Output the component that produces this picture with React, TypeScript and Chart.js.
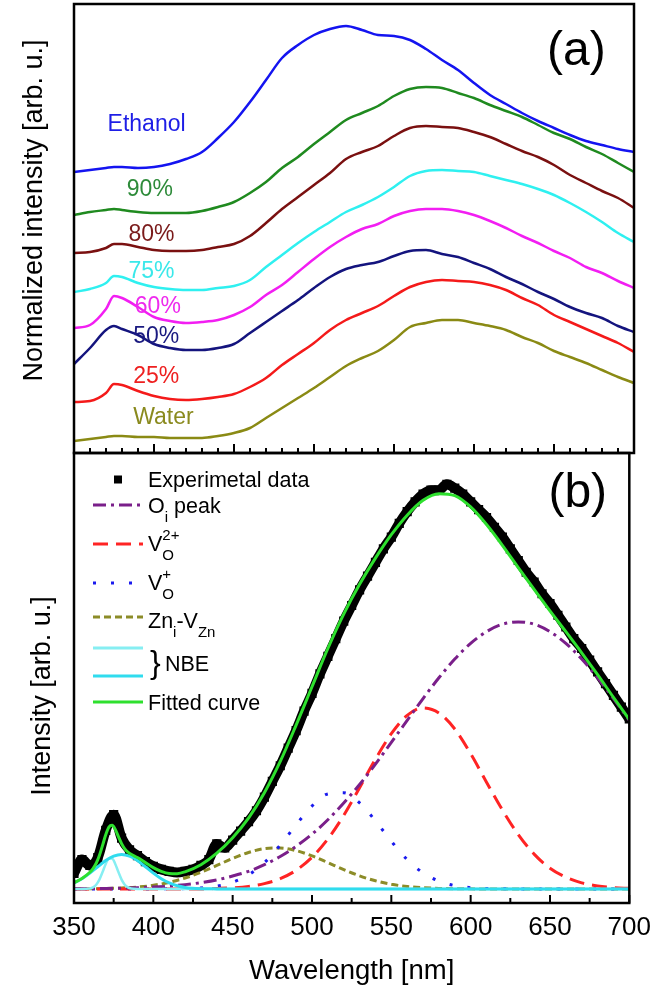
import React, { useEffect, useRef } from 'react';
import { Chart, registerables } from 'chart.js';

Chart.register(...registerables);

const FONT = '"Liberation Sans", Arial, Helvetica, sans-serif';

// ---------------- Panel (a): normalized PL spectra (offset) ----------------
const WL_A = [350, 360, 370, 375, 380, 390, 400, 410, 420, 430, 440, 450, 460, 470, 480, 490, 500, 510, 520, 530, 540, 550, 560, 570, 580, 590, 600, 610, 620, 630, 640, 650, 660, 670, 680, 690, 700];

const ETHANOL = [28.1, 28.3, 28.5, 28.6, 28.6, 28.5, 28.6, 28.9, 29.4, 30.1, 31.5, 33.1, 35.1, 37.3, 39.5, 40.8, 41.8, 42.4, 42.7, 42.3, 41.8, 41.7, 41.3, 40.4, 39.3, 38.3, 37.0, 35.8, 34.9, 34.0, 33.2, 32.5, 31.8, 31.2, 30.8, 30.4, 30.1];
const P90 = [23.8, 24.1, 24.3, 24.4, 24.3, 24.1, 24.0, 24.0, 24.0, 24.2, 24.6, 25.1, 26.0, 27.1, 28.5, 29.6, 30.9, 32.1, 33.3, 34.0, 34.7, 35.7, 36.4, 36.6, 36.5, 36.0, 35.5, 34.8, 34.2, 33.6, 32.8, 32.0, 31.4, 30.6, 29.9, 29.0, 28.1];
const P80 = [20.0, 20.1, 20.5, 20.9, 20.9, 20.6, 20.3, 20.2, 20.2, 20.3, 20.6, 20.9, 21.7, 23.0, 24.4, 25.6, 26.8, 28.0, 29.4, 30.1, 30.7, 31.7, 32.5, 32.7, 32.6, 32.5, 32.1, 31.6, 30.9, 30.2, 29.6, 28.8, 27.8, 27.0, 26.2, 25.5, 24.5];
const P75 = [16.1, 16.4, 17.0, 17.7, 17.6, 17.0, 16.6, 16.4, 16.3, 16.3, 16.5, 16.7, 17.3, 18.6, 19.8, 21.0, 22.1, 23.1, 24.1, 24.8, 25.6, 26.6, 27.7, 28.2, 28.3, 28.2, 28.1, 27.7, 27.3, 26.9, 26.4, 25.8, 25.0, 24.1, 23.1, 22.0, 21.1];
const P60 = [12.5, 12.8, 14.4, 15.7, 15.5, 14.6, 13.6, 13.2, 13.0, 13.1, 13.3, 13.8, 14.6, 15.8, 16.8, 18.1, 19.4, 20.6, 21.6, 22.4, 22.9, 23.7, 24.2, 24.4, 24.4, 24.2, 23.8, 23.2, 22.5, 21.7, 21.0, 20.2, 19.5, 18.6, 18.0, 17.2, 16.5];
const P50 = [8.9, 10.5, 12.3, 12.7, 12.4, 11.8, 10.9, 10.5, 10.3, 10.3, 10.5, 10.9, 12.0, 13.1, 14.2, 15.3, 16.5, 17.6, 18.4, 18.8, 19.1, 19.7, 20.2, 20.3, 19.9, 19.6, 19.0, 18.4, 17.6, 16.9, 16.1, 15.4, 14.6, 14.0, 13.5, 12.7, 12.1];
const P25 = [5.1, 5.2, 6.0, 6.9, 6.8, 6.2, 5.7, 5.4, 5.3, 5.4, 5.6, 5.9, 6.6, 7.5, 8.8, 9.9, 11.0, 12.3, 13.3, 14.0, 14.7, 15.7, 16.6, 17.1, 17.3, 17.2, 17.1, 16.8, 16.3, 15.5, 14.8, 13.8, 13.1, 12.4, 11.7, 11.0, 10.1];
const WATER = [1.2, 1.4, 1.6, 1.7, 1.7, 1.6, 1.6, 1.5, 1.5, 1.5, 1.7, 2.0, 2.5, 3.5, 4.5, 5.5, 6.5, 7.6, 8.7, 9.5, 10.2, 11.3, 12.6, 13.0, 13.3, 13.3, 13.0, 12.7, 12.3, 11.6, 11.0, 10.2, 9.6, 9.0, 8.3, 7.6, 7.0];

const NAMES_A = ['Ethanol', '90%', '80%', '75%', '60%', '50%', '25%', 'Water'];
const COLORS_A = ['#1414f0', '#1f8a1f', '#7a1010', '#2ff0f0', '#f21ef2', '#14147e', '#f41a1a', '#8a8a14'];
const LABEL_COLORS_A = ['#1e1ee6', '#2e8b3a', '#7a1a1a', '#3ae8ea', '#ee2aee', '#1a1a80', '#ee2020', '#8a8a1e'];
const LABEL_X_A = [371, 383, 384, 384, 388, 387, 387, 387];
const LABEL_Y_A = [32.8, 26.3, 21.8, 18.1, 14.6, 11.6, 7.6, 3.5];

// ---------------- Panel (b): deconvolution ----------------
const WL_B = [350, 360, 370, 380, 390, 400, 410, 420, 430, 440, 450, 460, 470, 480, 490, 500, 510, 520, 530, 540, 550, 560, 570, 580, 590, 600, 610, 620, 630, 640, 650, 660, 670, 680, 690, 700];
const OI_PEAK = [0.0004, 0.0007, 0.0012, 0.0019, 0.003, 0.0048, 0.0073, 0.011, 0.016, 0.023, 0.033, 0.045, 0.062, 0.083, 0.109, 0.140, 0.177, 0.220, 0.267, 0.319, 0.375, 0.431, 0.487, 0.540, 0.588, 0.628, 0.658, 0.677, 0.683, 0.677, 0.658, 0.628, 0.588, 0.540, 0.487, 0.431];
const VO2_PEAK = [0, 0, 0, 0, 0, 0, 0, 0, 0, 0.0012, 0.0029, 0.0065, 0.0136, 0.0263, 0.0477, 0.0808, 0.1277, 0.188, 0.259, 0.332, 0.397, 0.444, 0.463, 0.450, 0.409, 0.346, 0.273, 0.202, 0.139, 0.089, 0.053, 0.030, 0.0155, 0.0076, 0.0034, 0.0015];
const VO1_PEAK = [0, 0, 0, 0, 0, 0.0001, 0.0002, 0.0009, 0.0026, 0.0071, 0.017, 0.036, 0.067, 0.112, 0.164, 0.212, 0.243, 0.246, 0.220, 0.174, 0.122, 0.075, 0.041, 0.020, 0.0085, 0.0032, 0.0011, 0.0003, 0, 0, 0, 0, 0, 0, 0, 0];
const ZN_PEAK = [0.0001, 0.0004, 0.001, 0.0023, 0.0048, 0.0093, 0.0168, 0.0279, 0.0426, 0.060, 0.078, 0.0933, 0.103, 0.1046, 0.098, 0.0846, 0.0673, 0.0494, 0.0334, 0.0208, 0.0119, 0.0063, 0.0031, 0.0014, 0.0006, 0.0002, 0, 0, 0, 0, 0, 0, 0, 0, 0, 0];

const WL_NBE1 = [350, 355, 360, 362, 364, 366, 368, 370, 372, 374, 376, 378, 380, 382, 384, 386, 390, 400, 500, 600, 700];
const NBE1 = [0, 0, 0.0012, 0.004, 0.0108, 0.0238, 0.0431, 0.064, 0.078, 0.078, 0.064, 0.0431, 0.0238, 0.0108, 0.004, 0.0012, 0, 0, 0, 0, 0];
const WL_NBE2 = [350, 355, 360, 365, 370, 375, 380, 385, 390, 395, 400, 405, 410, 415, 420, 430, 440, 450, 500, 600, 700];
const NBE2 = [0.0152, 0.026, 0.0403, 0.0567, 0.0724, 0.0838, 0.088, 0.0838, 0.0724, 0.0567, 0.0403, 0.026, 0.0152, 0.008, 0.0039, 0.0007, 0.0001, 0, 0, 0, 0];

const WL_FIT = [350, 355, 360, 362, 364, 366, 368, 370, 372, 374, 376, 378, 380, 382, 384, 386, 390, 395, 400, 405, 410, 415, 420, 430, 440, 450, 460, 470, 480, 490, 500, 510, 520, 530, 540, 550, 560, 570, 580, 590, 600, 610, 620, 630, 640, 650, 660, 670, 680, 690, 700];
const FIT = [0.0157, 0.0267, 0.0426, 0.052, 0.0657, 0.0855, 0.1114, 0.1386, 0.1581, 0.1627, 0.1523, 0.1337, 0.116, 0.1026, 0.0942, 0.0886, 0.0802, 0.0673, 0.0545, 0.0448, 0.0395, 0.039, 0.0437, 0.0619, 0.0914, 0.131, 0.181, 0.246, 0.326, 0.419, 0.517, 0.615, 0.703, 0.779, 0.846, 0.906, 0.956, 0.994, 1.011, 1.006, 0.977, 0.932, 0.879, 0.822, 0.766, 0.711, 0.658, 0.604, 0.548, 0.490, 0.433];

const WL_EXP = [350, 355, 360, 365, 370, 375, 380, 385, 390, 395, 400, 405, 410, 415, 420, 425, 430, 435, 440, 445, 450, 455, 460, 465, 470, 475, 480, 485, 490, 495, 500, 505, 510, 515, 520, 525, 530, 535, 540, 545, 550, 555, 560, 565, 570, 575, 580, 585, 590, 595, 600, 605, 610, 615, 620, 625, 630, 635, 640, 645, 650, 655, 660, 665, 670, 675, 680, 685, 690, 695, 700];
const EXP = [0.04, 0.075, 0.06, 0.08, 0.15, 0.19, 0.13, 0.10, 0.085, 0.07, 0.058, 0.05, 0.045, 0.042, 0.045, 0.05, 0.06, 0.075, 0.115, 0.105, 0.125, 0.148, 0.172, 0.2, 0.235, 0.275, 0.315, 0.36, 0.405, 0.455, 0.50, 0.55, 0.595, 0.64, 0.685, 0.725, 0.765, 0.80, 0.835, 0.87, 0.90, 0.935, 0.965, 0.99, 1.01, 1.02, 1.02, 1.035, 1.025, 1.01, 0.99, 0.97, 0.95, 0.925, 0.90, 0.87, 0.84, 0.81, 0.785, 0.755, 0.73, 0.70, 0.67, 0.64, 0.615, 0.585, 0.555, 0.525, 0.495, 0.465, 0.435];

const X_TICKS = [350, 400, 450, 500, 550, 600, 650, 700];

const C_OI = '#7a1f8a';
const C_VO2 = '#ff2424';
const C_VO1 = '#1a1aee';
const C_ZN = '#8c8c28';
const C_NBE1 = '#86eef2';
const C_NBE2 = '#30dcee';
const C_FIT = '#2ee02e';

const pts = (xs: number[], ys: number[]) => xs.map((x, i) => ({ x, y: ys[i] }));

type Part = { t: string; sub?: string; sup?: string };

function drawRich(ctx: CanvasRenderingContext2D, parts: Part[], x: number, yBase: number) {
  for (const p of parts) {
    ctx.font = `21.5px ${FONT}`;
    if (p.t) {
      ctx.fillText(p.t, x, yBase);
      x += ctx.measureText(p.t).width;
    }
    ctx.font = `15px ${FONT}`;
    let w = 0;
    if (p.sub) {
      ctx.fillText(p.sub, x, yBase + 9);
      w = Math.max(w, ctx.measureText(p.sub).width);
    }
    if (p.sup) {
      ctx.fillText(p.sup, x, yBase - 11);
      w = Math.max(w, ctx.measureText(p.sup).width);
    }
    x += w;
  }
}

type Lbl = { text: string; x: number; y: number; color: string; size: number; align: CanvasTextAlign };

function makeDecor(cfg: {
  minorStep: number; majorLen: number; minorLen: number;
  yTitle: string; yTitleX: number; yTitleShift: number;
  labels: Lbl[]; legend: boolean;
}) {
  return {
    id: 'decor',
    afterDraw(chart: any) {
      const { ctx, chartArea: a, scales } = chart;
      const xs = scales.x;
      const ys = scales.y;
      ctx.save();
      ctx.strokeStyle = '#000';
      ctx.lineWidth = 2;
      ctx.setLineDash([]);
      for (let v = 350; v <= 700.001; v += cfg.minorStep) {
        const px = xs.getPixelForValue(v);
        const major = Math.abs(v % 50) < 1e-6;
        const len = major ? cfg.majorLen : cfg.minorLen;
        ctx.beginPath();
        ctx.moveTo(px, a.bottom);
        ctx.lineTo(px, a.bottom - len);
        ctx.stroke();
      }
      ctx.lineWidth = 2.5;
      ctx.strokeRect(a.left, a.top, a.right - a.left, a.bottom - a.top);

      // y title
      ctx.save();
      ctx.translate(cfg.yTitleX, (a.top + a.bottom) / 2 + cfg.yTitleShift);
      ctx.rotate(-Math.PI / 2);
      ctx.font = `27px ${FONT}`;
      ctx.fillStyle = '#000';
      ctx.textAlign = 'center';
      ctx.textBaseline = 'alphabetic';
      ctx.fillText(cfg.yTitle, 0, 0);
      ctx.restore();

      // in-plot labels
      ctx.textBaseline = 'middle';
      for (const l of cfg.labels) {
        ctx.font = `${l.size}px ${FONT}`;
        ctx.fillStyle = l.color;
        ctx.textAlign = l.align;
        ctx.fillText(l.text, xs.getPixelForValue(l.x), ys.getPixelForValue(l.y));
      }

      if (cfg.legend) {
        const L = a.left;
        const T = a.top;
        const x0 = L + 19;
        const x1 = L + 69;
        const tx = L + 74;
        const line = (y: number, color: string, width: number, dash: number[]) => {
          ctx.strokeStyle = color;
          ctx.lineWidth = width;
          ctx.setLineDash(dash);
          ctx.beginPath();
          ctx.moveTo(x0, T + y);
          ctx.lineTo(x1, T + y);
          ctx.stroke();
          ctx.setLineDash([]);
        };
        ctx.fillStyle = '#000';
        ctx.textAlign = 'left';
        ctx.textBaseline = 'alphabetic';
        ctx.fillRect(L + 40, T + 22.5, 8, 8);
        drawRich(ctx, [{ t: 'Experimetal data' }], tx, T + 34);
        line(52, C_OI, 3, [13, 5, 3, 5]);
        ctx.fillStyle = '#000';
        drawRich(ctx, [{ t: 'O', sub: 'i' }, { t: ' peak' }], tx, T + 60);
        line(91, C_VO2, 3, [15, 8]);
        ctx.fillStyle = '#000';
        drawRich(ctx, [{ t: 'V', sub: 'O', sup: '2+' }], tx, T + 98);
        line(130, C_VO1, 3, [3, 15]);
        ctx.fillStyle = '#000';
        drawRich(ctx, [{ t: 'V', sub: 'O', sup: '+' }], tx, T + 137);
        line(164, C_ZN, 3, [7, 4]);
        ctx.fillStyle = '#000';
        drawRich(ctx, [{ t: 'Zn', sub: 'i' }, { t: '-V', sub: 'Zn' }], tx, T + 175);
        line(195, C_NBE1, 3, []);
        line(223, C_NBE2, 3, []);
        ctx.fillStyle = '#000';
        ctx.font = `32px ${FONT}`;
        ctx.fillText('}', tx + 2, T + 220);
        drawRich(ctx, [{ t: 'NBE' }], tx + 17, T + 218);
        line(249, C_FIT, 3, []);
        ctx.fillStyle = '#000';
        drawRich(ctx, [{ t: 'Fitted curve' }], tx, T + 257);
      }
      ctx.restore();
    },
  };
}

export default function App() {
  const refA = useRef<HTMLCanvasElement>(null);
  const refB = useRef<HTMLCanvasElement>(null);

  useEffect(() => {
    Chart.defaults.font.family = FONT;
    const seriesA = [ETHANOL, P90, P80, P75, P60, P50, P25, WATER];
    const labelsA: Lbl[] = NAMES_A.map((n, i) => ({
      text: n, x: LABEL_X_A[i], y: LABEL_Y_A[i], color: LABEL_COLORS_A[i], size: 23, align: 'left' as CanvasTextAlign,
    }));
    labelsA.push({ text: '(a)', x: 664, y: 40.1, color: '#000', size: 48, align: 'center' });

    const chartA = new Chart(refA.current as HTMLCanvasElement, {
      type: 'line',
      data: {
        datasets: seriesA.map((vals, i) => ({
          label: NAMES_A[i],
          data: pts(WL_A, vals),
          borderColor: COLORS_A[i],
          borderWidth: 2.5,
          pointRadius: 0,
          fill: false,
          cubicInterpolationMode: 'monotone' as const,
        })),
      },
      options: {
        responsive: false,
        animation: false,
        events: [],
        layout: { padding: { left: 74, right: 26, top: 4, bottom: 539 } },
        plugins: { legend: { display: false }, tooltip: { enabled: false } },
        scales: {
          x: { type: 'linear', min: 350, max: 700, display: false },
          y: { type: 'linear', min: 0, max: 44.9, display: false },
        },
      },
      plugins: [makeDecor({
        minorStep: 10, majorLen: 9, minorLen: 5,
        yTitle: 'Normalized intensity [arb. u.]', yTitleX: 42, yTitleShift: -18,
        labels: labelsA, legend: false,
      })],
    } as any);

    const mk = (label: string, xs: number[], ys: number[], color: string, width: number, dash: number[], order: number) => ({
      label, data: pts(xs, ys), borderColor: color, borderWidth: width, borderDash: dash,
      pointRadius: 0, fill: false, cubicInterpolationMode: 'monotone' as const, order,
    });

    const chartB = new Chart(refB.current as HTMLCanvasElement, {
      type: 'line',
      data: {
        datasets: [
          mk('Fitted curve', WL_FIT, FIT, C_FIT, 3, [], 0),
          mk('NBE broad', WL_NBE2, NBE2, C_NBE2, 3, [], 1),
          mk('NBE narrow', WL_NBE1, NBE1, C_NBE1, 2.5, [], 2),
          mk('Oi peak', WL_B, OI_PEAK, C_OI, 3, [13, 5, 3, 5], 3),
          mk('VO2+', WL_B, VO2_PEAK, C_VO2, 3, [15, 8], 4),
          mk('VO+', WL_B, VO1_PEAK, C_VO1, 3, [3, 15], 5),
          mk('Zni-VZn', WL_B, ZN_PEAK, C_ZN, 3, [7, 4], 6),
          {
            label: 'Experimetal data', data: pts(WL_EXP, EXP), borderColor: '#000', borderWidth: 10,
            pointRadius: 6.5, pointStyle: 'rect', pointBackgroundColor: '#000', pointBorderWidth: 0,
            fill: false, cubicInterpolationMode: 'monotone' as const, order: 7,
          },
        ],
      },
      options: {
        responsive: false,
        animation: false,
        events: [],
        layout: { padding: { left: 74, right: 26, top: 453, bottom: 0 } },
        plugins: { legend: { display: false }, tooltip: { enabled: false } },
        scales: {
          x: {
            type: 'linear', min: 350, max: 700,
            grid: { display: false, drawTicks: false },
            border: { display: false },
            afterBuildTicks: (s: any) => { s.ticks = X_TICKS.map((v) => ({ value: v })); },
            afterFit: (s: any) => { s.height = 89; },
            ticks: { font: { size: 26, family: FONT }, color: '#000', padding: 9, maxRotation: 0, autoSkip: false },
            title: { display: true, text: 'Wavelength [nm]', font: { size: 27.5, family: FONT }, color: '#000', padding: { top: 0, bottom: 4 } },
          },
          y: { type: 'linear', min: -0.036, max: 1.115, display: false },
        },
      },
      plugins: [makeDecor({
        minorStep: 25, majorLen: 8, minorLen: 5,
        yTitle: 'Intensity [arb. u.]', yTitleX: 50, yTitleShift: 18,
        labels: [{ text: '(b)', x: 667.5, y: 1.01, color: '#000', size: 48, align: 'center' }],
        legend: true,
      })],
    } as any);

    return () => { chartA.destroy(); chartB.destroy(); };
  }, []);

  return (
    <div style={{ position: 'absolute', left: 0, top: 0, width: 660, height: 992, background: '#fff' }}>
      <canvas ref={refA} width={660} height={992} style={{ position: 'absolute', left: 0, top: 0 }} />
      <canvas ref={refB} width={660} height={992} style={{ position: 'absolute', left: 0, top: 0 }} />
    </div>
  );
}
